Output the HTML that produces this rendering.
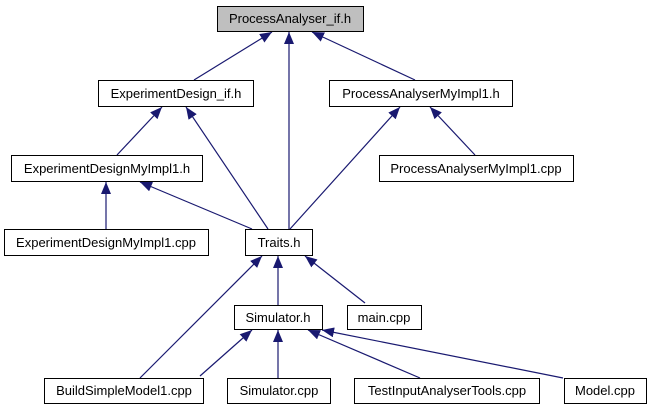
<!DOCTYPE html>
<html><head><style>body{margin:0;background:#fff}svg{display:block}text{font-family:"Liberation Sans",sans-serif;font-size:13px;text-anchor:middle}</style></head>
<body>
<svg width="652" height="411" viewBox="0 0 652 411">
<defs><marker id="a" viewBox="0 0 12 10" refX="12" refY="5" markerWidth="12" markerHeight="10" markerUnits="userSpaceOnUse" orient="auto"><path d="M0,0L12,5L0,10z" fill="#191970"/></marker></defs>
<g stroke="#191970" stroke-width="1.2" marker-end="url(#a)" fill="none">
<line x1="194" y1="80" x2="272" y2="32"/>
<line x1="289" y1="229" x2="289" y2="32"/>
<line x1="415" y1="80" x2="312" y2="32"/>
<line x1="117" y1="155" x2="162" y2="107"/>
<line x1="268" y1="229" x2="186" y2="107"/>
<line x1="106" y1="229" x2="106" y2="182"/>
<line x1="252" y1="229" x2="140" y2="182"/>
<line x1="290" y1="229" x2="400" y2="107"/>
<line x1="475" y1="155" x2="430" y2="107"/>
<line x1="140" y1="378" x2="262" y2="256"/>
<line x1="278" y1="305" x2="278" y2="256"/>
<line x1="365" y1="303" x2="305" y2="256"/>
<line x1="200" y1="376" x2="252" y2="330"/>
<line x1="278" y1="378" x2="278" y2="330"/>
<line x1="420" y1="378" x2="308" y2="330"/>
<line x1="563" y1="378" x2="322" y2="330"/>
</g>
<g stroke="#000" stroke-width="1" fill="#fff">
<rect x="217.5" y="6.5" width="146" height="25" fill="#bfbfbf"/>
<rect x="98.5" y="80.5" width="155" height="26"/>
<rect x="329.5" y="80.5" width="183" height="26"/>
<rect x="11.5" y="155.5" width="191" height="26"/>
<rect x="379.5" y="155.5" width="194" height="26"/>
<rect x="4.5" y="229.5" width="204" height="26"/>
<rect x="245.5" y="229.5" width="67" height="26"/>
<rect x="234.5" y="305.5" width="88" height="24"/>
<rect x="347.5" y="305.5" width="74" height="24"/>
<rect x="44.5" y="378.5" width="159" height="25"/>
<rect x="227.5" y="378.5" width="103" height="25"/>
<rect x="354.5" y="378.5" width="185" height="25"/>
<rect x="564.5" y="378.5" width="82" height="25"/>
</g>
<g fill="#000">
<text x="290" y="23">ProcessAnalyser_if.h</text>
<text x="176" y="98">ExperimentDesign_if.h</text>
<text x="421" y="98">ProcessAnalyserMyImpl1.h</text>
<text x="107" y="173">ExperimentDesignMyImpl1.h</text>
<text x="476" y="173">ProcessAnalyserMyImpl1.cpp</text>
<text x="106" y="247">ExperimentDesignMyImpl1.cpp</text>
<text x="279" y="247">Traits.h</text>
<text x="278" y="322">Simulator.h</text>
<text x="384" y="322">main.cpp</text>
<text x="124" y="395">BuildSimpleModel1.cpp</text>
<text x="279" y="395">Simulator.cpp</text>
<text x="447" y="395">TestInputAnalyserTools.cpp</text>
<text x="605" y="395">Model.cpp</text>
</g>
</svg>
</body></html>
